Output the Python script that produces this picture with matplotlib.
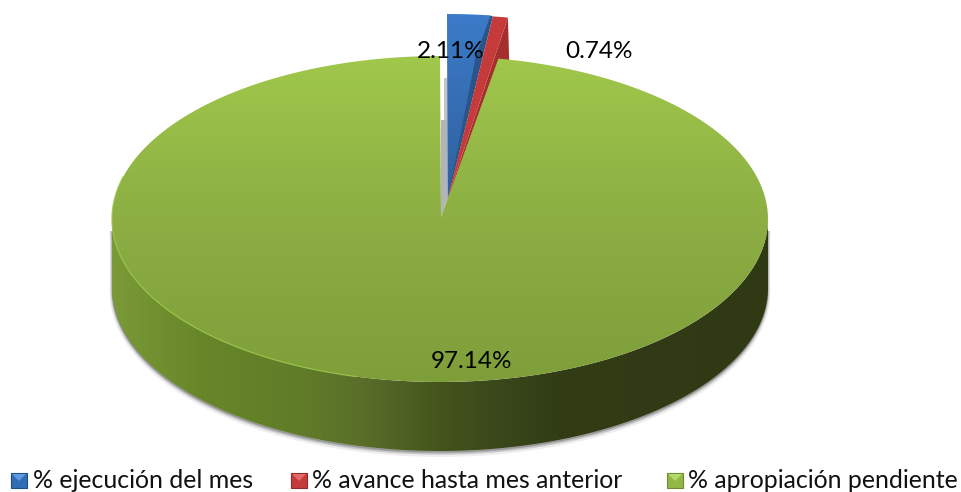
import numpy as np
import matplotlib.pyplot as plt
from matplotlib.colors import LinearSegmentedColormap
from matplotlib.patches import Polygon, Rectangle

plt.rcParams['font.family'] = ['Lato', 'DejaVu Sans']

categories = ['% ejecución del mes', '% avance hasta mes anterior', '% apropiación pendiente']
shares = [2.11, 0.74, 97.14]
labels = ['2.11%', '0.74%', '97.14%']

# ellipse of the top face, in pixels
CX, CY = 440, 219
RX, RY = 328, 163
DEPTH = 69


def rim(t_deg, cx=CX, cy=CY):
    t = np.radians(t_deg)
    return np.column_stack([cx + RX * np.sin(t), cy - RY * np.cos(t)])


def wedge(t0, t1, cx, cy, apex):
    ts = np.linspace(t0, t1, 200)
    return np.vstack([rim(ts, cx, cy), [apex]])


def fill_gradient(ax, patch, stops, extent, horizontal=False):
    # gradient image clipped to the patch outline
    cmap = LinearSegmentedColormap.from_list('g', stops)
    grad = np.linspace(0, 1, 256)
    grad = grad[None, :] if horizontal else grad[:, None]
    patch.set_facecolor('none')
    patch.set_edgecolor('none')
    ax.add_patch(patch)
    im = ax.imshow(grad, cmap=cmap, extent=extent, aspect='auto', zorder=patch.get_zorder())
    im.set_clip_path(patch)


fig = plt.figure(figsize=(9.61, 4.92), dpi=100)
ax = fig.add_axes([0, 0, 1, 1])

angles = np.cumsum([0] + shares) / sum(shares) * 360
blue_end, red_end = angles[1], angles[2]

# side of the green slice, with a soft grey shadow behind it
ts = np.linspace(90, 270, 300)
lower = rim(ts)
side = np.vstack([lower, (rim(ts) + [0, DEPTH])[::-1]])
for grow, alpha in [(3.5, 0.10), (2.2, 0.18), (1.0, 0.30)]:
    ax.add_patch(Polygon(np.vstack([lower + [0, 12], (rim(ts) + [0, DEPTH + grow])[::-1]]),
                         closed=True, fc='#606060', ec='#606060',
                         lw=grow, alpha=alpha, zorder=0.5))
fill_gradient(ax, Polygon(side, closed=True, zorder=1),
              [(0, '#7a9a38'), (0.13, '#688729'), (0.29, '#607c28'), (0.38, '#5a6e2a'),
               (0.50, '#44541b'), (0.60, '#39461a'), (0.68, '#323d16'), (1, '#2f3a15')],
              (112, 768, 460, 200), horizontal=True)

# inner face of the green slice, seen through the gap
ax.add_patch(Polygon([(441, 120), (447, 120), (447, 200), (441, 217)], closed=True,
                     fc='#b4b4b4', ec='none', zorder=2))
ax.add_patch(Rectangle((444, 78), 3, 42, fc='#c4c4c4', ec='none', zorder=2))

# blue slice, pulled out
blue_apex = np.array([447.5, 200])
blue_top = wedge(0, blue_end, 447, 177, blue_apex)
fill_gradient(ax, Polygon(blue_top, closed=True, zorder=3),
              [(0, '#3b7cc9'), (1, '#2f5f9c')], (440, 495, 205, 10))

# red slice, pulled out
red_apex = np.array([448, 197])
red_top = wedge(blue_end, red_end, 449.5, 178, red_apex)

# darker inner face of the blue slice, reaching the red one
corner = blue_top[-2]
inner = corner * 0.77 + blue_apex * 0.23 + [-5, 0]
ax.add_patch(Polygon([corner, red_top[0], blue_apex, inner], closed=True,
                     fc='#2b5488', ec='none', zorder=4))

ax.add_patch(Polygon([red_top[-2], red_top[-2] + [2, DEPTH], red_apex], closed=True,
                     fc='#a52e2e', ec='none', zorder=5))
ax.add_patch(Polygon(red_top, closed=True, fc='#c53a3a', ec='none', zorder=6))

# green top face
rim_line = rim(np.linspace(195, 285, 200))
green = Polygon(wedge(red_end, 360, CX, CY, (441, 217)), closed=True, zorder=7)
fill_gradient(ax, green, [(0, '#a0c84b'), (0.5, '#8cae43'), (1, '#7e9e3a')], (100, 780, 385, 55))
ax.plot(rim_line[:, 0], rim_line[:, 1], color='#98c444', lw=1.0, alpha=0.8, zorder=7.5)

ax.text(451, 51, labels[0], ha='center', va='center', fontsize=17.5, color='black', zorder=8)
ax.text(599, 51, labels[1], ha='center', va='center', fontsize=17.5, color='black', zorder=8)
ax.text(471, 361, labels[2], ha='center', va='center', fontsize=17.5, color='black', zorder=8)

# legend
key_x = [11, 291, 667]
text_x = [33, 312, 688]
key_colors = [('#2f6db5', '#1f4e86', '#5f9be0'), ('#c53a3a', '#8f2a2a', '#e06a6a'),
              ('#92b745', '#6f8c30', '#b5d86a')]
for kx, tx, name, (mid, dark, light) in zip(key_x, text_x, categories, key_colors):
    ax.add_patch(Rectangle((kx, 473), 16, 15, fc=mid, ec=dark, lw=0.8, zorder=8))
    ax.add_patch(Polygon([(kx + 1, 474), (kx + 15, 474), (kx + 8, 481)], closed=True,
                         fc=light, ec='none', zorder=9))
    ax.text(tx, 481, name, ha='left', va='center', fontsize=17.9, color='#111111', zorder=8)

ax.set_xlim(0, 961)
ax.set_ylim(492, 0)
ax.axis('off')
fig.savefig('out.png', dpi=100, facecolor='white')
